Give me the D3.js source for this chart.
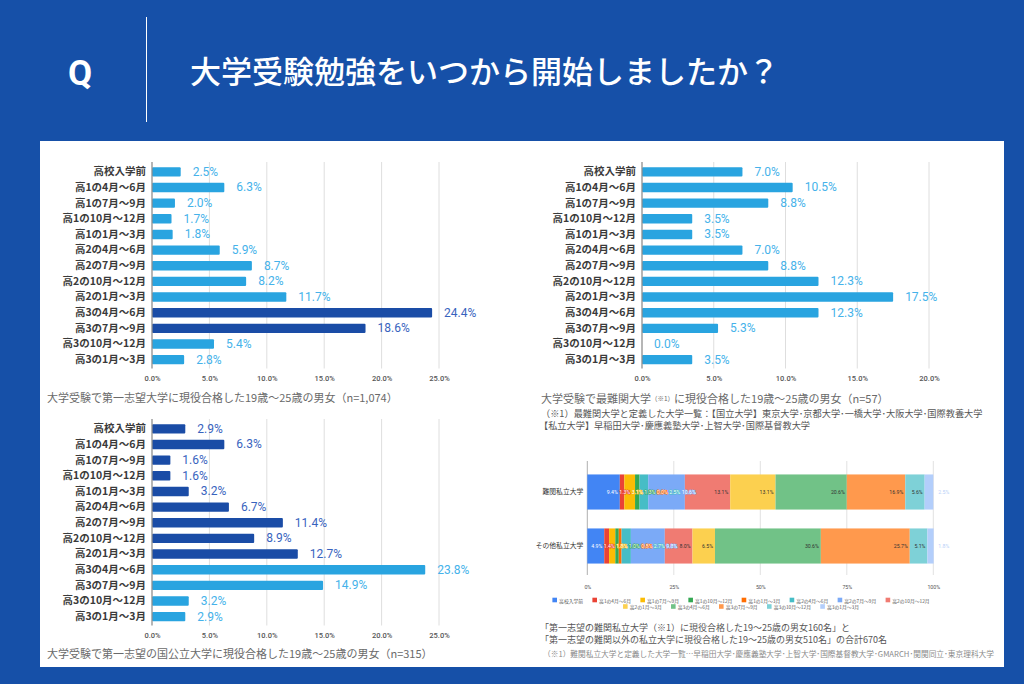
<!DOCTYPE html>
<html><head><meta charset="utf-8">
<script src="https://cdn.jsdelivr.net/npm/d3@7"></script>
<style>
html,body{margin:0;padding:0;background:#1650A8;}
svg{display:block;}
text{font-family:"Noto Sans CJK JP","Noto Sans",sans-serif;}
</style></head><body>
<svg id="chart" width="1024" height="684"></svg>
<script>
// ---------- DATA ----------
const questionMark = "Q";
const titleText = "大学受験勉強をいつから開始しましたか？";
const categories = ["高校入学前","高1の4月～6月","高1の7月～9月","高1の10月～12月","高1の1月～3月","高2の4月～6月","高2の7月～9月","高2の10月～12月","高2の1月～3月","高3の4月～6月","高3の7月～9月","高3の10月～12月","高3の1月～3月"];
const valuesFirstChoice = [2.5,6.3,2.0,1.7,1.8,5.9,8.7,8.2,11.7,24.4,18.6,5.4,2.8];
const darkFirstChoice = [false,false,false,false,false,false,false,false,false,true,true,false,false];
const valuesTopUniv = [7.0,10.5,8.8,3.5,3.5,7.0,8.8,12.3,17.5,12.3,5.3,0.0,3.5];
const darkTopUniv = [false,false,false,false,false,false,false,false,false,false,false,false,false];
const valuesNational = [2.9,6.3,1.6,1.6,3.2,6.7,11.4,8.9,12.7,23.8,14.9,3.2,2.9];
const darkNational = [true,true,true,true,true,true,true,true,true,false,false,false,false];
const ticksLeft = [0,5,10,15,20,25];
const ticksRight = [0,5,10,15,20];
const stackCategories = ["難関私立大学","その他私立大学"];
const stackDifficult = [9.4,1.3,3.1,1.3,0.0,2.5,10.6,13.1,13.1,20.6,16.9,5.6,2.5];
const stackOther = [4.9,1.4,1.8,1.0,0.8,2.7,9.8,8.0,6.5,30.6,25.7,5.1,1.8];
const stackTicks = [0,25,50,75,100];
const stackColors = ["#4285F4","#EA4335","#FBBC04","#34A853","#FF6D01","#46BDC6","#7BAAF7","#F07B72","#FCD04F","#71C287","#FF994D","#7ED1D7","#B3CEFB"];
const caption1 = "大学受験で第一志望大学に現役合格した19歳～25歳の男女（n=1,074）";
const caption2a = "大学受験で最難関大学";
const caption2b = "（※1）";
const caption2c = "に現役合格した19歳～25歳の男女（n=57）";
const note2a = "（※1）最難関大学と定義した大学一覧：【国立大学】東京大学･京都大学･一橋大学･大阪大学･国際教養大学";
const note2b = "【私立大学】早稲田大学･慶應義塾大学･上智大学･国際基督教大学";
const caption3 = "大学受験で第一志望の国公立大学に現役合格した19歳～25歳の男女（n=315）";
const caption4a = "「第一志望の難関私立大学（※1）に現役合格した19～25歳の男女160名」と";
const caption4b = "「第一志望の難関以外の私立大学に現役合格した19～25歳の男女510名」の合計670名";
const note4 = "（※1）難関私立大学と定義した大学一覧…早稲田大学･慶應義塾大学･上智大学･国際基督教大学･GMARCH･関関同立･東京理科大学";

// ---------- STYLE ----------
const BLUE = "#1650A8";
const LIGHT = "#29A4E0", LIGHT_LABEL = "#45B2EA";
const DARK = "#1A4CA6", DARK_LABEL = "#3863BE";
const NUMFONT = "Roboto, 'Noto Sans', sans-serif";

const svg = d3.select("#chart");
svg.append("rect").attr("width",1024).attr("height",684).attr("fill",BLUE);

// header
svg.append("text").attr("x",80).attr("y",85).attr("text-anchor","middle")
  .attr("fill","#fff").attr("font-size",35).attr("font-weight",700)
  .style("font-family",NUMFONT).text(questionMark);
svg.append("line").attr("x1",146.5).attr("x2",146.5).attr("y1",17).attr("y2",122)
  .attr("stroke","#fff").attr("stroke-width",1);
svg.append("text").attr("x",190).attr("y",83).attr("fill","#fff")
  .attr("font-size",31).attr("font-weight",500).text(titleText);

// white panel
svg.append("rect").attr("x",40).attr("y",141).attr("width",964).attr("height",526).attr("fill","#fff");

// ---------- horizontal bar chart ----------
function hbar(opt){
  const g = svg.append("g");
  const x = d3.scaleLinear().domain([0, opt.max]).range([opt.x0, opt.x1]);
  const y = d3.scaleBand().domain(categories).range([opt.y0, opt.y1]).paddingInner(0.4).paddingOuter(0.2);
  g.selectAll("line.grid").data(opt.ticks.filter(t=>t>0)).join("line")
    .attr("x1",d=>x(d)).attr("x2",d=>x(d)).attr("y1",opt.y0-2).attr("y2",opt.y1+1)
    .attr("stroke","#dedede").attr("stroke-width",1);
  g.selectAll("rect.bar").data(opt.values).join("rect")
    .attr("x",x(0)).attr("y",(d,i)=>y(categories[i]))
    .attr("width",d=>Math.max(0,x(d)-x(0))).attr("height",y.bandwidth())
    .attr("rx",1)
    .attr("fill",(d,i)=>opt.dark[i]?DARK:LIGHT);
  g.append("line").attr("x1",x(0)).attr("x2",x(0)).attr("y1",opt.y0-2).attr("y2",opt.y1+1)
    .attr("stroke","#8f8f8f").attr("stroke-width",1.3);
  g.selectAll("text.val").data(opt.values).join("text")
    .attr("x",d=>x(d)+12).attr("y",(d,i)=>y(categories[i])+y.bandwidth()/2)
    .attr("dominant-baseline","central")
    .style("font-family",NUMFONT).attr("font-size",12)
    .attr("fill",(d,i)=>opt.dark[i]?DARK_LABEL:LIGHT_LABEL)
    .text(d=>d.toFixed(1)+"%");
  const ya = g.append("g").attr("transform",`translate(${x(0)},0)`)
    .call(d3.axisLeft(y).tickSize(0).tickPadding(6));
  ya.select(".domain").remove();
  ya.selectAll("text").attr("font-size",10.5).attr("font-weight",700).attr("fill","#3a3a3a")
    .style("font-family","'Noto Sans CJK JP', sans-serif");
  const xa = g.append("g").attr("transform",`translate(0,${opt.y1})`)
    .call(d3.axisBottom(x).tickValues(opt.ticks).tickSize(0).tickPadding(8).tickFormat(d=>d.toFixed(1)+"%"));
  xa.select(".domain").remove();
  xa.selectAll("text").attr("font-size",7.5).attr("fill","#555").attr("font-weight",500)
    .style("font-family",NUMFONT);
  return g;
}

hbar({x0:152,x1:439,max:25,y0:164,y1:367.5,ticks:ticksLeft,values:valuesFirstChoice,dark:darkFirstChoice});
hbar({x0:642,x1:929,max:20,y0:164,y1:367.5,ticks:ticksRight,values:valuesTopUniv,dark:darkTopUniv});
hbar({x0:152,x1:439,max:25,y0:421,y1:624.5,ticks:ticksLeft,values:valuesNational,dark:darkNational});

function cap(x,y,txt,size,color){
  return svg.append("text").attr("x",x).attr("y",y).attr("dominant-baseline","central")
    .attr("font-size",size).attr("fill",color).text(txt);
}
cap(47,396.5,caption1,11,"#6a6a6a");
const c2 = svg.append("text").attr("x",541).attr("y",398).attr("dominant-baseline","central").attr("fill","#6a6a6a");
c2.append("tspan").attr("font-size",11).text(caption2a);
c2.append("tspan").attr("font-size",6.5).text(caption2b);
c2.append("tspan").attr("font-size",11).text(caption2c);
cap(541,413,note2a,9.2,"#555");
cap(539,425,note2b,9.2,"#555");
cap(47,653,caption3,11,"#6a6a6a");

// ---------- stacked chart ----------
const sx = d3.scaleLinear().domain([0,100]).range([587.3,933.3]);
const sy = d3.scaleBand().domain(stackCategories).range([465,573]).paddingInner(0.35).paddingOuter(0.175);
const keys = d3.range(categories.length);
const stackRows = [stackDifficult, stackOther].map((vals,r)=>{
  const o = {cat:stackCategories[r]};
  keys.forEach(k=>o[k]=vals[k]);
  return o;
});
const series = d3.stack().keys(keys)(stackRows);
const sg = svg.append("g");
sg.selectAll("line.sgrid").data(stackTicks).join("line")
  .attr("x1",d=>sx(d)).attr("x2",d=>sx(d)).attr("y1",461).attr("y2",575)
  .attr("stroke",d=>d===0?"#b0b0b0":"#e2e2e2").attr("stroke-width",1);
sg.selectAll("g.ser").data(series).join("g")
  .attr("fill",(d,i)=>stackColors[i])
  .selectAll("rect").data(d=>d).join("rect")
  .attr("x",d=>sx(d[0])).attr("width",d=>Math.max(0,sx(d[1])-sx(d[0])))
  .attr("y",d=>sy(d.data.cat)).attr("height",sy.bandwidth());
stackRows.forEach((row,r)=>{
  let prevEnd = -Infinity;
  const cy = sy(row.cat)+sy.bandwidth()/2;
  series.forEach((s,i)=>{
    const seg = s[r];
    const v = row[i];
    const t = sg.append("text").attr("y",cy).attr("dominant-baseline","central")
      .style("font-family",NUMFONT).attr("font-size",5.2).text(v.toFixed(1)+"%");
    const w = t.node().getComputedTextLength();
    if(i===series.length-1){
      t.attr("x",sx(100)+5).attr("fill","#b9d0f8");
      return;
    }
    const ideal = sx(seg[1]) - 2 - w;
    const start = Math.max(ideal, prevEnd + 1.5);
    const moved = start > ideal + 0.5;
    const fits = (sx(seg[1])-sx(seg[0])) >= w + 4;
    t.attr("x",start);
    prevEnd = start + w;
    if(i===0){ t.attr("fill","#fff"); }
    else if(moved || !fits){
      t.attr("fill","#fff").attr("stroke",stackColors[i]).attr("stroke-width",1.1)
       .attr("paint-order","stroke").attr("stroke-linejoin","round");
    } else { t.attr("fill","#333"); }
  });
});
const sya = sg.append("g").attr("transform",`translate(${sx(0)},0)`)
  .call(d3.axisLeft(sy).tickSize(0).tickPadding(4));
sya.select(".domain").remove();
sya.selectAll("text").attr("font-size",6.8).attr("fill","#333");
const sxa = sg.append("g").attr("transform",`translate(0,575)`)
  .call(d3.axisBottom(sx).tickValues(stackTicks).tickSize(0).tickPadding(10).tickFormat(d=>d+"%"));
sxa.select(".domain").remove();
sxa.selectAll("text").attr("font-size",5.3).attr("fill","#555").style("font-family",NUMFONT);

const legendRows = [d3.range(0,8), d3.range(8,13)];
const legendY = [600, 606.5];
const legendCenter = 741;
legendRows.forEach((idxs,ri)=>{
  const lg = sg.append("g");
  let cx = 0;
  idxs.forEach(i=>{
    const it = lg.append("g").attr("transform",`translate(${cx},0)`);
    it.append("rect").attr("x",0).attr("y",-2.3).attr("width",4.6).attr("height",4.6).attr("fill",stackColors[i]);
    const tt = it.append("text").attr("x",6.7).attr("y",0).attr("dominant-baseline","central")
      .attr("font-size",4.8).attr("fill","#555").text(categories[i]);
    cx += 6.7 + tt.node().getComputedTextLength() + 9.3;
  });
  const total = cx - 9.3;
  lg.attr("transform",`translate(${legendCenter - total/2},${legendY[ri]})`);
});

cap(540,627,caption4a,9,"#555");
cap(540,639,caption4b,9,"#555");
cap(543,653.5,note4,7.7,"#8a8a8a");
</script>
</body></html>
